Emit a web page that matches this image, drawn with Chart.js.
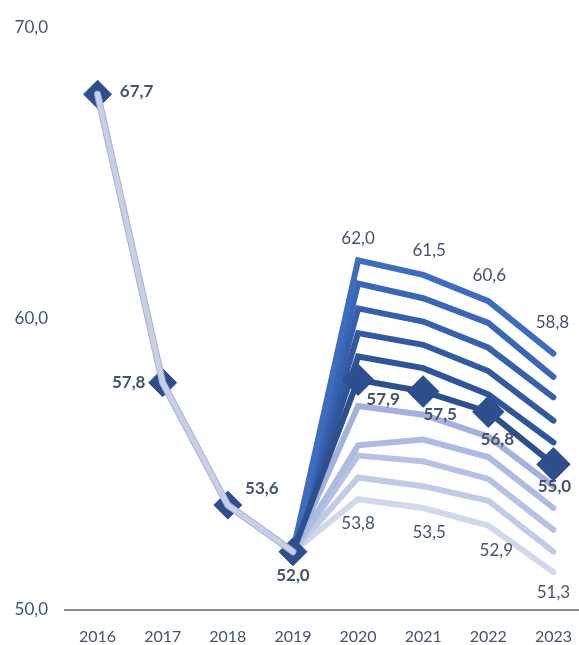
<!DOCTYPE html>
<html>
<head>
<meta charset="utf-8">
<script src="https://cdn.jsdelivr.net/npm/chart.js@4"></script>
<style>
  html, body { margin: 0; padding: 0; background: #fff; overflow: hidden; }
  #wrap { width: 605px; height: 645px; }
</style>
</head>
<body>
<div id="wrap"><canvas id="chart" width="605" height="645"></canvas></div>
<script>
// years on the x axis
const years = ['2016', '2017', '2018', '2019', '2020', '2021', '2022', '2023'];

// actual values 2016-2019
const actual = [67.7, 57.8, 53.6, 52.0];

// central forecast 2020-2023
const forecast = [57.9, 57.5, 56.8, 55.0];

// fan lines above the central forecast (top first)
const upper1 = [62.0, 61.5, 60.6, 58.8];
const upper2 = [61.2, 60.7, 59.85, 58.0];
const upper3 = [60.35, 59.9, 59.0, 57.3];
const upper4 = [59.5, 59.1, 58.2, 56.5];
const upper5 = [58.7, 58.3, 57.4, 55.75];

// fan lines below the central forecast (closest first)
const lower1 = [57.0, 56.7, 55.95, 54.25];
const lower2 = [55.65, 55.85, 55.25, 53.5];
const lower3 = [55.3, 55.1, 54.5, 52.75];
const lower4 = [54.55, 54.25, 53.75, 52.0];
const lower5 = [53.8, 53.5, 52.9, 51.3];

const yTicks = [50, 60, 70];

const fmt = v => v.toFixed(1).replace('.', ',');
const lastActual = actual[actual.length - 1];
const hist = actual.concat([null, null, null, null]);
const fan = arr => [null, null, null, lastActual].concat(arr);

const textColor = '#44546a';
const fontFam = 'Lato, "Open Sans", sans-serif';

function fanLine(arr, color, order) {
    return {
        data: fan(arr),
        borderColor: color,
        borderWidth: 6,
        borderCapStyle: 'round',
        borderJoinStyle: 'miter',
        pointRadius: 0,
        order: order
    };
}

const datasets = [
    // historical line on top of its markers
    {
        data: hist,
        borderColor: '#c8cfe6',
        borderWidth: 5,
        borderCapStyle: 'round',
        pointRadius: 0,
        order: 0
    },
    {
        data: hist,
        borderColor: '#a9b2d3',
        borderWidth: 7,
        borderCapStyle: 'round',
        pointRadius: 0,
        order: 1
    },
    {
        data: hist,
        showLine: false,
        pointStyle: 'rectRot',
        pointRadius: 14,
        pointBackgroundColor: '#2f4f8c',
        pointBorderColor: '#2f4f8c',
        order: 2,
        labels: { bold: true, offsets: [[39, -3], [-34, 0], [34, -17], [0, 24]] }
    },
    {
        data: fan(forecast),
        borderColor: '#2e4f8e',
        borderWidth: 6,
        borderCapStyle: 'round',
        pointStyle: 'rectRot',
        pointRadius: [0, 0, 0, 0, 12, 12, 12, 13],
        pointBackgroundColor: '#2e4f8e',
        pointBorderColor: '#2e4f8e',
        order: 3,
        labels: { bold: true, from: 4, offsets: [[25, 20], [17, 23], [9, 28], [1, 22]] }
    },
    Object.assign(fanLine(upper1, '#3e6cbe', 4), {
        labels: { bold: false, from: 4, offsets: [[0, -22], [6, -24], [1, -26], [-1, -31]] }
    }),
    fanLine(upper2, '#3a66b5', 4),
    fanLine(upper3, '#3660ab', 4),
    fanLine(upper4, '#325aa1', 4),
    fanLine(upper5, '#2f5497', 4),
    fanLine(lower1, '#a3b2dc', 5),
    fanLine(lower2, '#aebbe0', 5),
    fanLine(lower3, '#b7c2e3', 5),
    fanLine(lower4, '#c1cae7', 5),
    Object.assign(fanLine(lower5, '#d2d8ec', 5), {
        labels: { bold: false, from: 4, offsets: [[0, 24], [6, 25], [8, 25], [0, 20]] }
    })
];

// draws the value labels next to chosen points
const valueLabels = {
    id: 'valueLabels',
    afterDatasetsDraw(chart) {
        const ctx = chart.ctx;
        chart.data.datasets.forEach((ds, i) => {
            if (!ds.labels) return;
            const meta = chart.getDatasetMeta(i);
            const from = ds.labels.from || 0;
            ctx.save();
            ctx.fillStyle = textColor;
            ctx.font = (ds.labels.bold ? 'bold ' : '') + '17px ' + fontFam;
            ctx.textAlign = 'center';
            ctx.textBaseline = 'middle';
            ds.labels.offsets.forEach((off, k) => {
                const idx = from + k;
                const pt = meta.data[idx];
                const v = ds.data[idx];
                if (!pt || v == null) return;
                ctx.fillText(fmt(v), pt.x + off[0], pt.y + off[1]);
            });
            ctx.restore();
        });
    }
};

new Chart(document.getElementById('chart'), {
    type: 'line',
    data: { labels: years, datasets: datasets },
    options: {
        responsive: false,
        animation: false,
        spanGaps: false,
        layout: { padding: { top: 25, right: 0, left: 0, bottom: 0 } },
        plugins: {
            legend: { display: false },
            tooltip: { enabled: false }
        },
        scales: {
            x: {
                offset: true,
                grid: { display: false, drawTicks: false },
                border: { display: true, color: '#8c8c8c', width: 2 },
                ticks: {
                    color: textColor,
                    font: { family: fontFam, size: 16 },
                    padding: 17,
                    maxRotation: 0
                },
                afterFit(scale) { scale.height = 35; }
            },
            y: {
                min: yTicks[0],
                max: yTicks[yTicks.length - 1],
                afterBuildTicks(scale) { scale.ticks = yTicks.map(v => ({ value: v })); },
                grid: { display: false, drawTicks: false },
                border: { display: false },
                ticks: {
                    color: textColor,
                    font: { family: fontFam, size: 17 },
                    padding: 17,
                    callback: v => fmt(v)
                },
                afterFit(scale) { scale.width = 65; }
            }
        }
    },
    plugins: [valueLabels]
});
</script>
</body>
</html>
